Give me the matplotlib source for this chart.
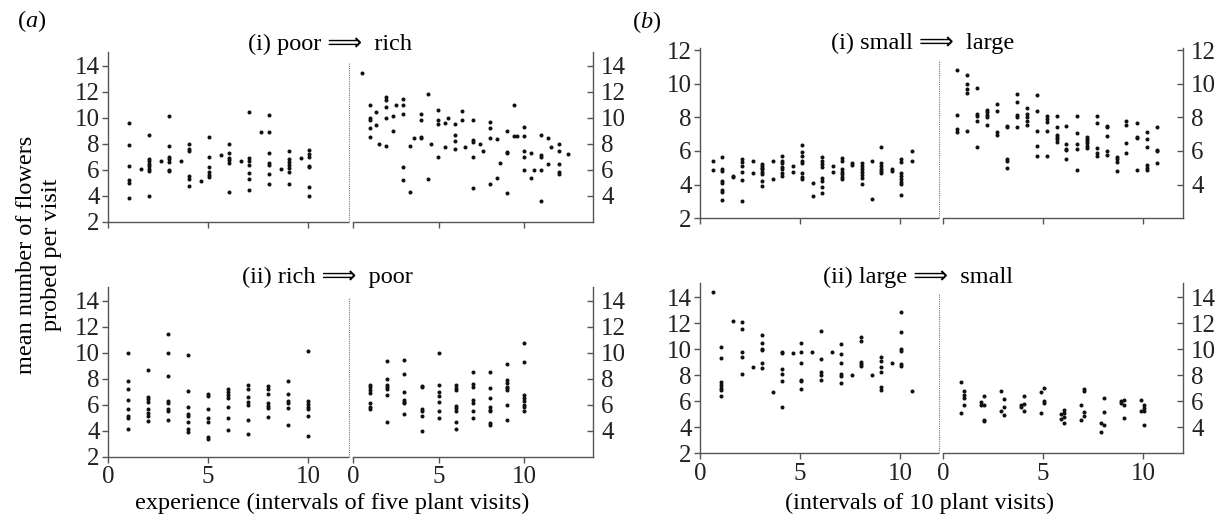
import matplotlib
matplotlib.use("Agg")
import matplotlib.pyplot as plt
import numpy as np

plt.rcParams['font.family'] = ['Liberation Serif', 'DejaVu Sans']
plt.rcParams['mathtext.fontset'] = 'custom'
plt.rcParams['mathtext.rm'] = 'Liberation Serif'
plt.rcParams['mathtext.it'] = 'Liberation Serif:italic'

# ---- data: column positions and values in each column ----
# (a)(i) poor -> rich, before switch
a1_pre_x = [1.05, 1.65, 2.05, 2.65, 3.05, 3.65, 4.05, 4.65, 5.05, 5.65,
            6.05, 6.65, 7.05, 7.65, 8.05, 8.65, 9.05, 9.65, 10.05]
a1_pre_y = [[9.6, 7.9, 6.3, 5.2, 5.0, 3.8], [6.05],
            [8.7, 6.85, 6.65, 6.45, 6.25, 6.05, 5.9, 4.0], [6.7],
            [10.1, 7.85, 7.0, 6.8, 6.6, 6.0, 5.9], [6.7],
            [8.0, 7.6, 7.4, 5.5, 5.3, 4.75], [5.1],
            [8.5, 7.0, 6.2, 5.8, 5.6, 5.45], [7.1],
            [7.95, 7.25, 6.9, 6.75, 6.55, 4.25], [6.7],
            [10.45, 6.9, 6.7, 6.35, 5.75, 5.3, 4.4], [8.9],
            [10.2, 8.9, 7.3, 6.55, 6.35, 5.7, 4.9], [6.05],
            [7.4, 6.85, 6.6, 6.35, 6.1, 5.85, 4.9], [6.9],
            [7.55, 7.2, 6.95, 6.3, 6.2, 4.7, 4.0]]
# (a)(i) after switch
a1_post_x = [0.53, 0.97, 1.36, 1.52, 1.95, 2.34, 2.53, 2.92, 3.35, 3.55,
             3.96, 4.37, 4.54, 4.97, 5.38, 5.56, 5.96, 6.37, 6.55, 6.98,
             7.39, 7.56, 7.99, 8.38, 8.58, 8.97, 9.38, 9.57, 9.98, 10.39,
             10.57, 10.98, 11.4, 11.56, 11.99, 12.57]
a1_post_y = [[13.4], [11.0, 10.0, 9.8, 9.2, 8.5], [10.4, 9.4], [7.95],
             [11.6, 11.35, 10.8, 9.95, 7.85], [10.15, 9.0], [11.0],
             [11.4, 11.0, 10.3, 6.2, 5.2], [7.8, 4.3], [8.4],
             [10.25, 9.8, 8.55, 8.4], [11.8, 5.3], [8.0],
             [10.6, 9.8, 9.55, 7.0], [9.6, 7.75], [10.0],
             [9.5, 8.65, 8.2, 7.6], [10.55, 9.8], [7.75],
             [9.8, 8.3, 8.15, 7.0, 4.6], [7.95], [7.4],
             [9.65, 9.2, 8.4, 4.9], [8.35, 5.35], [6.55],
             [8.95, 7.35, 7.25, 4.2], [10.95, 8.6], [8.6],
             [9.25, 8.6, 7.45, 6.95, 5.95], [7.3, 5.35], [5.95],
             [8.7, 7.15, 7.0, 5.95, 3.6], [8.4, 6.4], [7.75],
             [8.0, 7.45, 6.4, 5.85, 5.7], [7.2]]

# (a)(ii) rich -> poor
a2_pre_x = [1, 2, 3, 4, 5, 6, 7, 8, 9, 10]
a2_pre_y = [[10.0, 7.8, 7.2, 6.4, 5.7, 5.1, 4.95, 4.15],
            [8.65, 6.6, 6.45, 6.2, 5.65, 5.35, 5.1, 4.75],
            [11.45, 10.0, 8.2, 6.25, 6.1, 5.65, 5.5, 4.8],
            [9.8, 7.05, 5.85, 5.25, 5.1, 4.65, 4.1, 3.9],
            [6.85, 6.65, 5.65, 5.0, 4.7, 3.55, 3.35],
            [7.2, 7.0, 6.75, 6.55, 5.85, 4.95, 4.05],
            [7.55, 7.2, 6.6, 6.2, 5.95, 4.8, 3.75],
            [7.45, 7.2, 6.85, 6.1, 5.9, 5.75, 5.05],
            [7.85, 6.8, 6.3, 6.1, 5.75, 4.45],
            [10.15, 6.25, 6.05, 5.85, 5.65, 5.15, 3.6]]
a2_post_x = [1, 2, 3, 4, 5, 6, 7, 8, 9, 10]
a2_post_y = [[7.55, 7.35, 7.15, 6.9, 6.15, 5.85, 5.7],
             [9.35, 8.0, 7.5, 7.35, 7.2, 6.75, 4.7],
             [9.45, 8.35, 6.95, 6.35, 6.2, 6.1, 5.25],
             [7.45, 7.35, 5.65, 5.5, 5.15, 4.0],
             [10.0, 7.55, 6.95, 6.7, 6.2, 5.55, 4.95],
             [7.55, 7.25, 7.1, 5.9, 5.75, 5.5, 4.65, 4.1],
             [8.5, 7.6, 7.35, 6.35, 6.1, 5.5, 5.0],
             [8.5, 7.3, 6.55, 5.85, 5.6, 5.5, 4.6, 4.45],
             [9.15, 7.9, 7.7, 7.35, 7.25, 7.1, 6.0, 4.85],
             [10.75, 9.25, 6.75, 6.55, 6.3, 6.0, 5.8, 5.55]]

# (b)(i) small -> large
b1_pre_x = [0.63, 1.08, 1.63, 2.1, 2.63, 3.1, 3.63, 4.1, 4.63, 5.08, 5.63,
            6.08, 6.63, 7.08, 7.62, 8.08, 8.62, 9.07, 9.62, 10.07, 10.62]
b1_pre_y = [[5.4, 4.87], [5.64, 4.91, 4.81, 4.22, 4.08, 3.68, 3.54, 3.09],
            [4.53, 4.48], [5.52, 5.37, 5.13, 4.75, 4.28, 3.0], [5.4, 4.67],
            [5.23, 5.13, 5.0, 4.91, 4.77, 4.61, 4.22, 3.94], [5.4, 4.36],
            [5.72, 5.4, 5.27, 5.07, 4.91, 4.67, 4.53], [5.13, 4.77],
            [6.36, 5.96, 5.7, 5.39, 5.27, 4.67, 4.48, 4.34], [4.08, 3.33],
            [5.62, 5.39, 5.23, 5.07, 4.38, 4.2, 3.84, 3.52], [5.13, 4.77],
            [5.56, 5.39, 4.93, 4.77, 4.61, 4.48, 4.32], [5.27, 5.15],
            [5.3, 5.13, 4.93, 4.77, 4.57, 4.38, 4.02], [5.42, 3.13],
            [6.26, 5.27, 5.13, 4.93, 4.81, 4.71], [4.95, 4.81],
            [5.52, 5.35, 4.67, 4.53, 4.34, 4.18, 4.04, 3.39], [6.02, 5.4]]
b1_post_x = [0.7, 1.2, 1.7, 2.2, 2.7, 3.2, 3.7, 4.2, 4.7, 5.2, 5.7,
             6.17, 6.7, 7.2, 7.7, 8.2, 8.7, 9.17, 9.7, 10.2, 10.7]
b1_post_y = [[10.8, 8.15, 7.3, 7.12], [10.54, 10.0, 9.67, 9.47, 7.16],
             [9.77, 8.19, 8.1, 7.8, 6.23], [8.44, 8.3, 8.15, 8.0, 7.55],
             [8.78, 8.4, 7.1, 6.96], [7.5, 7.42, 5.52, 5.42, 4.98],
             [9.39, 8.9, 8.15, 8.0, 7.45], [8.58, 8.17, 8.0, 7.81, 7.53],
             [9.33, 8.4, 7.2, 6.27, 5.68], [8.05, 7.89, 7.75, 7.2, 5.73],
             [8.1, 7.45, 6.96, 6.86, 6.7, 6.56], [7.5, 6.43, 6.11, 6.03, 5.52],
             [8.05, 7.06, 6.41, 6.11, 4.89], [6.86, 6.72, 6.6, 6.47, 6.31, 6.17],
             [8.05, 7.65, 6.17, 5.87, 5.72], [7.51, 7.45, 6.92, 5.97, 5.77],
             [5.62, 5.52, 5.32, 4.79], [7.79, 7.55, 6.5, 5.91],
             [7.65, 6.86, 6.8, 4.89], [7.1, 6.72, 6.23, 5.14, 4.98, 4.85],
             [7.42, 6.03, 5.97, 5.28]]

# (b)(ii) large -> small
b2_pre_x = [0.63, 1.05, 1.63, 2.08, 2.63, 3.08, 3.63, 4.08, 4.63, 5.07, 5.62,
            6.06, 6.62, 7.05, 7.62, 8.07, 8.62, 9.07, 9.62, 10.07, 10.62]
b2_pre_y = [[14.44], [10.2, 9.3, 7.49, 7.23, 7.05, 6.87, 6.44], [12.2],
            [12.08, 11.6, 9.82, 9.44, 8.08], [8.62],
            [11.1, 10.5, 10.03, 9.95, 8.92, 8.59], [6.7],
            [9.77, 9.7, 8.46, 8.1, 7.56, 5.59], [9.7],
            [10.5, 9.82, 8.92, 7.64, 7.54, 6.92], [9.8],
            [11.44, 9.23, 8.23, 8.03, 7.67], [9.8],
            [10.38, 9.62, 8.92, 8.08, 7.95, 7.44], [8.0],
            [10.97, 10.67, 9.05, 8.87, 8.72], [8.0],
            [9.38, 9.13, 8.62, 8.23, 7.08, 6.87], [8.92],
            [12.85, 11.36, 10.03, 9.9, 8.87, 8.72], [6.8]]
b2_post_x = [0.89, 1.05, 1.89, 2.06, 2.89, 3.06, 3.9, 4.06, 4.9, 5.07,
             5.9, 6.07, 6.9, 7.07, 7.9, 8.07, 8.9, 9.07, 9.9, 10.07]
b2_post_y = [[7.52, 5.09], [6.83, 6.45, 6.25, 5.73], [5.94, 5.68],
             [6.42, 5.73, 4.58, 4.46], [6.81, 5.27], [6.17, 5.56, 4.92],
             [5.73, 5.53], [6.42, 5.79, 5.27], [6.68, 5.09], [7.01, 5.99, 5.86],
             [5.02, 4.66], [5.3, 5.09, 4.76, 4.33], [5.68, 4.58],
             [6.94, 6.76, 5.15, 4.84], [4.33, 3.64], [6.25, 5.15, 4.15],
             [5.99, 5.86], [6.12, 5.68, 4.71], [6.12, 5.22], [5.73, 5.48, 5.27, 4.15]]

W, H = 1226, 524
fig = plt.figure(figsize=(W / 100, H / 100), dpi=100)


def box(x0, x1, ytop, ybot):
    # pixel box -> figure fraction
    return [x0 / W, (H - ybot) / H, (x1 - x0) / W, (ybot - ytop) / H]


def panel(rect, xs, ys, side, xlim, ylim, yticks, xlabels, sep_top=0.94):
    ax = fig.add_axes(rect)
    px = np.concatenate([[x] * len(c) for x, c in zip(xs, ys)])
    py = np.concatenate(ys)
    ax.plot(px, py, 'o', color='#111111', ms=2.9, mew=0, clip_on=False)
    ax.set_xlim(xlim)
    ax.set_ylim(ylim)
    ax.set_xticks([0, 5, 10])
    ax.set_yticks(yticks)
    ax.spines['top'].set_visible(False)
    for s in ax.spines.values():
        s.set_color('#555555')
        s.set_linewidth(1.0)
    if side == 'left':
        ax.spines['right'].set_visible(False)
        ax.tick_params(axis='y', direction='out', length=4, pad=2)
        ax.axvline(xlim[1] + 0.05, ymin=0, ymax=sep_top, color='#777777',
                   ls=(0, (1, 1)), lw=0.8, clip_on=False)
    else:
        ax.spines['left'].set_visible(False)
        ax.yaxis.tick_right()
        ax.tick_params(axis='y', direction='in', length=4, pad=6)
    ax.tick_params(axis='x', direction='out', length=4, pad=3)
    ax.tick_params(colors='#555555', labelcolor='#222222', labelsize=18, width=1.0)
    if not xlabels:
        ax.set_xticklabels([])
    return ax


# (a)(i)
panel(box(108, 348, 52, 221.7), a1_pre_x, a1_pre_y, 'left', (0, 12), (2, 15.05),
      [2, 4, 6, 8, 10, 12, 14], False)
panel(box(353, 593, 52, 221.7), a1_post_x, a1_post_y, 'right', (0, 14), (2, 15.05),
      [4, 6, 8, 10, 12, 14], False)
# (a)(ii)
panel(box(108, 348, 286.7, 456.7), a2_pre_x, a2_pre_y, 'left', (0, 12), (2, 15.08),
      [2, 4, 6, 8, 10, 12, 14], True)
panel(box(353, 593, 286.7, 456.7), a2_post_x, a2_post_y, 'right', (0, 14), (2, 15.08),
      [4, 6, 8, 10, 12, 14], True)
# (b)(i)
panel(box(700, 938, 48, 218.3), b1_pre_x, b1_pre_y, 'left', (0, 11.9), (2, 12.12),
      [2, 4, 6, 8, 10, 12], False, sep_top=0.93)
panel(box(943, 1183, 48, 218.3), b1_post_x, b1_post_y, 'right', (0, 12), (2, 12.12),
      [4, 6, 8, 10, 12], False)
# (b)(ii)
panel(box(700, 938, 283.3, 453.3), b2_pre_x, b2_pre_y, 'left', (0, 11.9), (2, 15.08),
      [2, 4, 6, 8, 10, 12, 14], True)
panel(box(943, 1183, 283.3, 453.3), b2_post_x, b2_post_y, 'right', (0, 12), (2, 15.08),
      [4, 6, 8, 10, 12, 14], True)

# titles and labels
fs = 17.5
fig.text(330 / W, 1 - 44 / H, '(i) poor \u27f9  rich', ha='center', va='center', fontsize=fs)
fig.text(327 / W, 1 - 277 / H, '(ii) rich \u27f9  poor', ha='center', va='center', fontsize=fs)
fig.text(923 / W, 1 - 43 / H, '(i) small \u27f9  large', ha='center', va='center', fontsize=fs)
fig.text(918 / W, 1 - 277 / H, '(ii) large \u27f9  small', ha='center', va='center', fontsize=fs)
fig.text(32 / W, 1 - 21 / H, r'($\it{a}$)', ha='center', va='center', fontsize=fs)
fig.text(647 / W, 1 - 22 / H, r'($\it{b}$)', ha='center', va='center', fontsize=fs)
fig.text(39 / W, 1 - 255 / H, 'mean number of flowers\nprobed per visit', rotation=90,
         ha='center', va='center', multialignment='center', fontsize=fs, linespacing=1.2)
fig.text(332 / W, 1 - 503 / H, 'experience (intervals of five plant visits)',
         ha='center', va='center', fontsize=fs)
fig.text(920 / W, 1 - 503 / H, '(intervals of 10 plant visits)',
         ha='center', va='center', fontsize=fs)

fig.savefig('out.png', dpi=100)
plt.close()
